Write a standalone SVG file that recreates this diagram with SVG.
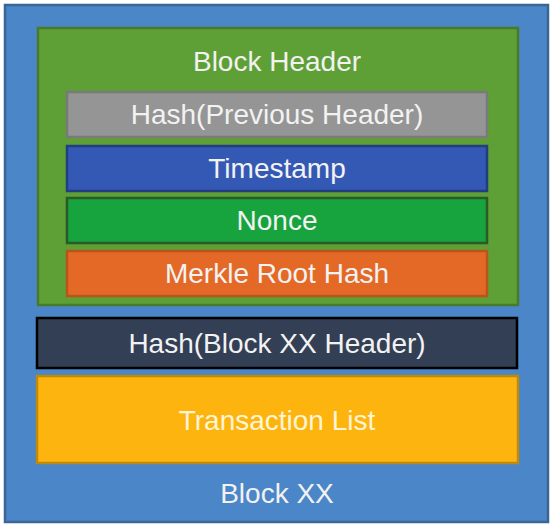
<svg xmlns="http://www.w3.org/2000/svg" width="554" height="530" viewBox="0 0 554 530">
<style>
text{font-family:"Liberation Sans",Arial,sans-serif;font-size:28px;fill:#F2F2F2;text-anchor:middle}
.box{stroke-width:2.5}
</style>
<rect x="0" y="0" width="554" height="530" fill="#ffffff"/>
<g id="block-xx">
<rect class="box" x="5" y="5" width="543" height="517" fill="#4A86C8" stroke="#3A6594"/>
<text x="277" y="503">Block XX</text>
</g>
<g id="block-header">
<rect class="box" x="38" y="28" width="480" height="277" fill="#5FA036" stroke="#477B2A"/>
<text x="277" y="71">Block Header</text>
</g>
<g id="hash-previous">
<rect class="box" x="67" y="92" width="420" height="45" fill="#959595" stroke="#7A7A7A"/>
<text x="277" y="124">Hash(Previous Header)</text>
</g>
<g id="timestamp">
<rect class="box" x="67" y="146" width="420" height="45" fill="#3459B4" stroke="#233E80"/>
<text x="277" y="178">Timestamp</text>
</g>
<g id="nonce">
<rect class="box" x="67" y="198" width="420" height="45" fill="#17A43E" stroke="#2B5A2A"/>
<text x="277" y="230">Nonce</text>
</g>
<g id="merkle">
<rect class="box" x="67" y="251" width="420" height="45" fill="#E46926" stroke="#B9541D"/>
<text x="277" y="283">Merkle Root Hash</text>
</g>
<g id="hash-block">
<rect class="box" x="37" y="318" width="480" height="50" fill="#333F55" stroke="#000000"/>
<text x="277" y="353">Hash(Block XX Header)</text>
</g>
<g id="transactions">
<rect class="box" x="37" y="376" width="481" height="87" fill="#FDB40E" stroke="#BD8A0C"/>
<text x="277" y="430" style="fill:#FFF4D6">Transaction List</text>
</g>
<g id="connectors"/>
</svg>
